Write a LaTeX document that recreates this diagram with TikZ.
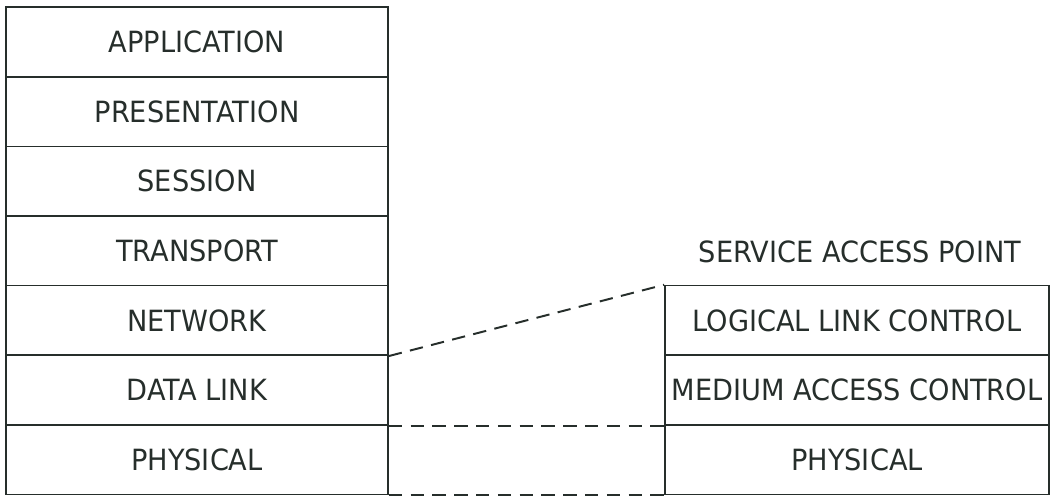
\documentclass[tikz,border=0pt]{standalone}
\usepackage{fontspec}
\setsansfont{DejaVu Sans}[FakeStretch=0.93]
\usepackage{tikz}
\usepackage{xcolor}
\definecolor{ink}{RGB}{38,46,43}

\begin{document}
\begin{tikzpicture}[
    box/.style={rectangle, draw=ink, line width=1.2pt, minimum height=1.74cm, inner sep=0pt,
        text=ink, font=\sffamily\fontsize{20.8}{24}\selectfont},
    osi/.style={box, minimum width=9.55cm},
    lan/.style={box, minimum width=9.6cm},
    link/.style={draw=ink, line width=1.4pt, dash pattern=on 9.5pt off 6pt}
]
    \useasboundingbox (0,0) rectangle (26.375,12.4);

    % OSI reference model
    \node[osi] (app) at (4.925,11.35) {APPLICATION};
    \node[osi] (pres) at (4.925,9.61) {PRESENTATION};
    \node[osi] (sess) at (4.925,7.87) {SESSION};
    \node[osi] (trans) at (4.925,6.13) {TRANSPORT};
    \node[osi] (net) at (4.925,4.39) {NETWORK};
    \node[osi] (dlink) at (4.925,2.65) {DATA LINK};
    \node[osi] (phys) at (4.925,0.91) {PHYSICAL};

    % IEEE 802 layers
    \node[lan] (llc) at (21.425,4.39) {LOGICAL LINK CONTROL};
    \node[lan] (mac) at (21.425,2.65) {MEDIUM ACCESS CONTROL};
    \node[lan] (rphys) at (21.425,0.91) {PHYSICAL};
    \node[text=ink, font=\sffamily\fontsize{20.8}{24}\selectfont] (sap) at (21.5,6.1) {SERVICE ACCESS POINT};

    % Dashed correspondences
    \draw[link] (net.south east) -- (llc.north west);
    \draw[link] (dlink.south east) -- (mac.south west);
    \draw[link] (phys.south east) -- (rphys.south west);
\end{tikzpicture}
\end{document}
